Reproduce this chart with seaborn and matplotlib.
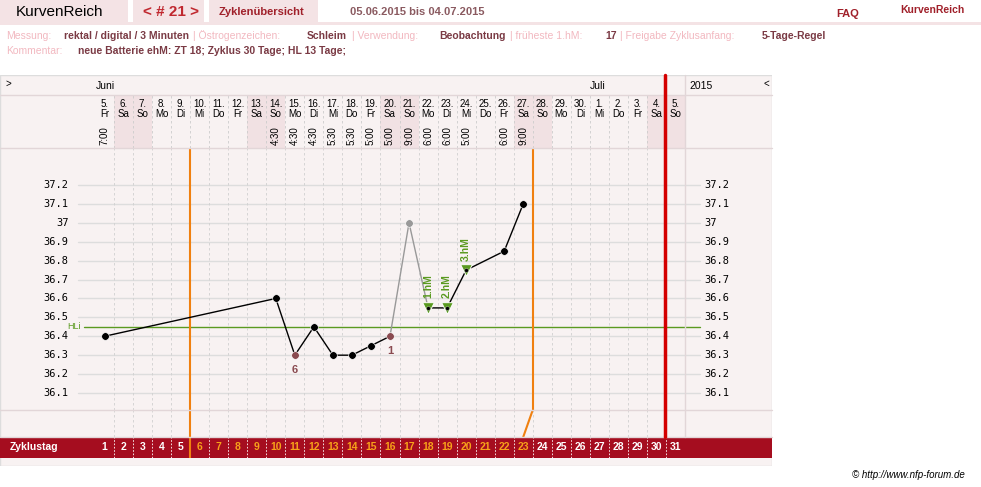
import matplotlib
matplotlib.use("Agg")
import matplotlib.pyplot as plt
import seaborn as sns
import pandas as pd
import numpy as np
from matplotlib.patches import Rectangle

sns.set_theme(style="white")
plt.rcParams['font.family'] = ['Liberation Sans', 'DejaVu Sans']

days = list(range(1, 32))
dates = ["5.","6.","7.","8.","9.","10.","11.","12.","13.","14.","15.","16.","17.","18.","19.","20.","21.","22.","23.","24.","25.","26.","27.","28.","29.","30.","1.","2.","3.","4.","5."]
weekdays = ["Fr","Sa","So","Mo","Di","Mi","Do","Fr","Sa","So","Mo","Di","Mi","Do","Fr","Sa","So","Mo","Di","Mi","Do","Fr","Sa","So","Mo","Di","Mi","Do","Fr","Sa","So"]
times = {1:"7:00",10:"4:30",11:"4:30",12:"4:30",13:"5:30",14:"5:30",15:"5:00",16:"5:00",17:"9:00",18:"6:00",19:"6:00",20:"5:00",22:"6:00",23:"9:00"}
temp_days = [1, 10, 11, 12, 13, 14, 15, 16, 17, 18, 19, 20, 22, 23]
temps = [36.4, 36.6, 36.3, 36.45, 36.3, 36.3, 36.35, 36.4, 37.0, 36.55, 36.55, 36.75, 36.85, 37.1]
excluded_day = 17
hm_days = [18, 19, 20]
hm_labels = ["1.hM", "2.hM", "3.hM"]
yticks = [36.1, 36.2, 36.3, 36.4, 36.5, 36.6, 36.7, 36.8, 36.9, 37.0, 37.1, 37.2]
ytick_labels = ["36.1","36.2","36.3","36.4","36.5","36.6","36.7","36.8","36.9","37","37.1","37.2"]
hli = 36.45
fertile_start, fertile_end = 6, 23
cycle_end = 30

W, H = 981, 487
fig = plt.figure(figsize=(W/100, H/100), dpi=100)
fig.patch.set_facecolor("white")
def fx(x): return x / W
def fy(y): return 1 - y / H
def axes_px(x0, y0, x1, y1, **kw):
    return fig.add_axes([fx(x0), fy(y1), fx(x1) - fx(x0), (y1 - y0) / H], **kw)

DARK = "#7a3a44"; LIGHT = "#f2b8c0"; PANEL = "#f8f2f2"; SHADE = "#f1e1e3"
# background panel
bg = axes_px(0, 75, 772, 466); bg.set_xlim(0, 1); bg.set_ylim(0, 1); bg.axis("off")
bg.add_patch(Rectangle((0, 0), 1, 1, facecolor=PANEL, edgecolor="#dddddd", lw=1))
# header boxes
for x0, x1 in [(0, 128), (133, 204), (209, 318)]:
    fig.patches.append(Rectangle((fx(x0), fy(22)), fx(x1 - x0), 22 / H, transform=fig.transFigure, facecolor="#f4e3e5", edgecolor="none"))
fig.patches.append(Rectangle((0, fy(25)), 1, 3 / H, transform=fig.transFigure, facecolor="#f4e3e5", edgecolor="none"))
fig.text(fx(16), fy(12), "KurvenReich", fontsize=11, color="black", va="center")
fig.text(fx(143), fy(12), "< # 21 >", fontsize=11, color="#c0282f", va="center", fontweight="bold")
fig.text(fx(219), fy(12), "Zyklenübersicht", fontsize=8, color="#a0202a", va="center", fontweight="bold")
fig.text(fx(350), fy(12), "05.06.2015 bis 04.07.2015", fontsize=8, color="#8a5a60", va="center", fontweight="bold")
fig.text(fx(836), fy(14), "FAQ", fontsize=8, color="#a0202a", va="center", fontweight="bold")
fig.text(fx(900), fy(10), "KurvenReich", fontsize=7.5, color="#a0202a", va="center", fontweight="bold")
row1 = [("Messung:", LIGHT, 6), ("rektal / digital / 3 Minuten", DARK, 64), ("| Östrogenzeichen:", LIGHT, 193),
        ("Schleim", DARK, 307), ("| Verwendung:", LIGHT, 352), ("Beobachtung", DARK, 439), ("| früheste 1.hM:", LIGHT, 510),
        ("17", DARK, 605), ("| Freigabe Zyklusanfang:", LIGHT, 620), ("5-Tage-Regel", DARK, 762)]
for t, c, x in row1:
    fig.text(fx(x), fy(36), t, fontsize=7.5, color=c, va="center", fontweight="bold" if c == DARK else "normal")
fig.text(fx(6), fy(51), "Kommentar:", fontsize=7.5, color=LIGHT, va="center")
fig.text(fx(78), fy(51), "neue Batterie ehM: ZT 18; Zyklus 30 Tage; HL 13 Tage;", fontsize=7.5, color=DARK, va="center", fontweight="bold")
fig.text(fx(5), fy(84), ">", fontsize=7, color="black", va="center")
fig.text(fx(96), fy(86), "Juni", fontsize=7.5, color="black", va="center")
fig.text(fx(590), fy(86), "Juli", fontsize=7.5, color="black", va="center")
fig.text(fx(689), fy(86), "2015", fontsize=7.5, color="black", va="center")
fig.text(fx(763), fy(84), "<", fontsize=7, color="black", va="center")
fig.text(fx(852), fy(475), "© http://www.nfp-forum.de", fontsize=7, color="black", va="center", style="italic")
for y in [95, 148, 410, 437]:
    fig.lines.append(plt.Line2D([0, fx(772)], [fy(y), fy(y)], transform=fig.transFigure, color="#e2d6d8", lw=1))
fig.lines.append(plt.Line2D([fx(685), fx(685)], [fy(75), fy(437)], transform=fig.transFigure, color="#e2d6d8", lw=1))

XL = (0.5, 31.5)
weekend = [i + 1 for i, w in enumerate(weekdays) if w in ("Sa", "So")]
# header axes
hax = axes_px(95, 95, 685, 148); hax.set_xlim(*XL); hax.set_ylim(0, 1); hax.axis("off")
for d in weekend:
    hax.axvspan(d - 0.5, d + 0.5, color=SHADE, lw=0)
for d in days[:-1]:
    hax.axvline(d + 0.5, color="#cccccc", lw=0.6, ls=(0, (3, 3)))
for d, dt, wd in zip(days, dates, weekdays):
    hax.text(d, 0.93, dt, ha="center", va="top", fontsize=7, color="black")
    hax.text(d, 0.74, wd, ha="center", va="top", fontsize=7, color="black")
for d, t in times.items():
    hax.text(d, 0.05, t, ha="center", va="bottom", fontsize=7, rotation=90, color="black")

# main axes
tmin = 36.1 - (410 - 393) / 189; tmax = 37.2 + (185 - 148) / 189
ax = axes_px(95, 148, 685, 410); ax.set_xlim(*XL); ax.set_ylim(tmin, tmax); ax.axis("off")
for d in days[:-1]:
    ax.axvline(d + 0.5, color="#d0d0d0", lw=0.6, ls=(0, (3, 3)))
for t, lab in zip(yticks, ytick_labels):
    ax.plot([-0.9 + 0.5, 32.3], [t, t], color="#dddddd", lw=1, clip_on=False, zorder=0)
    ax.text(-0.2 + 0.5 - 1.2, t, lab, ha="right", va="center", fontsize=7.5, family="DejaVu Sans Mono", color="black")
    ax.text(32.5, t, lab, ha="left", va="center", fontsize=7.5, family="DejaVu Sans Mono", color="black")
ax.plot([-0.1, 32.3], [hli, hli], color="#5a9a20", lw=1, clip_on=False, zorder=1)
ax.text(-0.25, hli, "HLi", ha="right", va="center", fontsize=6.5, color="#5a9a20")
ax.axvline(fertile_start - 0.5, color="#f08010", lw=1.5)
ax.axvline(fertile_end + 0.5, color="#f08010", lw=1.5)

df = pd.DataFrame({"day": temp_days, "temp": temps})
ex_i = temp_days.index(excluded_day)
before = df.iloc[:ex_i]; after = df.iloc[ex_i + 1:]
grey = df.iloc[ex_i - 1:ex_i + 2]
sns.lineplot(data=grey, x="day", y="temp", ax=ax, color="#999999", lw=1, legend=False, sort=False)
sns.lineplot(data=before, x="day", y="temp", ax=ax, color="black", lw=1, legend=False, sort=False)
sns.lineplot(data=after, x="day", y="temp", ax=ax, color="black", lw=1, legend=False, sort=False)
normal = df[~df.day.isin([11, 16, 17] + hm_days)]
sns.scatterplot(data=normal, x="day", y="temp", ax=ax, color="black", s=30, zorder=5, legend=False)
sns.scatterplot(data=df[df.day.isin([11, 16])], x="day", y="temp", ax=ax, color="#8a4a50", s=30, zorder=5, legend=False)
sns.scatterplot(data=df[df.day == 17], x="day", y="temp", ax=ax, color="#999999", s=30, zorder=5, legend=False)
hm = df[df.day.isin(hm_days)]
sns.scatterplot(data=hm, x="day", y="temp", ax=ax, color="#5a9a20", marker="v", s=70, zorder=5, legend=False)
sns.scatterplot(data=hm, x="day", y="temp", ax=ax, color="black", s=8, zorder=6, legend=False)
for d, lab in zip(hm_days, hm_labels):
    t = df.loc[df.day == d, "temp"].iloc[0]
    ax.text(d, t + 0.05, lab, rotation=90, ha="center", va="bottom", fontsize=7.5, color="#5a9a20", fontweight="bold")
ax.text(11, 36.3 - 0.05, "6", ha="center", va="top", fontsize=8, color="#8a4a50", fontweight="bold")
ax.text(16, 36.4 - 0.05, "1", ha="center", va="top", fontsize=8, color="#8a4a50", fontweight="bold")
ax.set_xlabel(""); ax.set_ylabel("")

# gap axes
gax = axes_px(95, 410, 685, 437); gax.set_xlim(*XL); gax.set_ylim(0, 1); gax.axis("off")
for d in days[:-1]:
    gax.axvline(d + 0.5, color="#d0d0d0", lw=0.6, ls=(0, (3, 3)))
gax.axvline(fertile_start - 0.5, color="#f08010", lw=1.5)
gax.plot([fertile_end + 0.5, fertile_end], [1, 0], color="#f08010", lw=1.5)

# Zyklustag row
zax = axes_px(0, 437, 772, 458); zax.set_xlim(0, 1); zax.set_ylim(0, 1); zax.axis("off")
zax.add_patch(Rectangle((0, 0), 1, 1, facecolor="#a50d1f", edgecolor="none"))
fig.text(fx(10), fy(447.5), "Zyklustag", fontsize=7.5, color="white", va="center", fontweight="bold")
dax = axes_px(95, 437, 685, 458); dax.set_xlim(*XL); dax.set_ylim(0, 1); dax.axis("off")
for d in days:
    c = "#f7a21a" if fertile_start <= d <= fertile_end else "white"
    dax.text(d, 0.5, str(d), ha="center", va="center", fontsize=7.5, color=c, fontweight="bold")
    if d < 31:
        dax.axvline(d + 0.5, color="white", lw=0.6, ls=(0, (2, 2)))
dax.axvline(fertile_start - 0.5, color="#f08010", lw=1.5)

# cycle end line across
fig.lines.append(plt.Line2D([fx(95 + (cycle_end + 0.5 - 0.5) * 19)] * 2, [fy(75), fy(437)], transform=fig.transFigure, color="#d40000", lw=2.5))

fig.savefig("out.png", dpi=100)
